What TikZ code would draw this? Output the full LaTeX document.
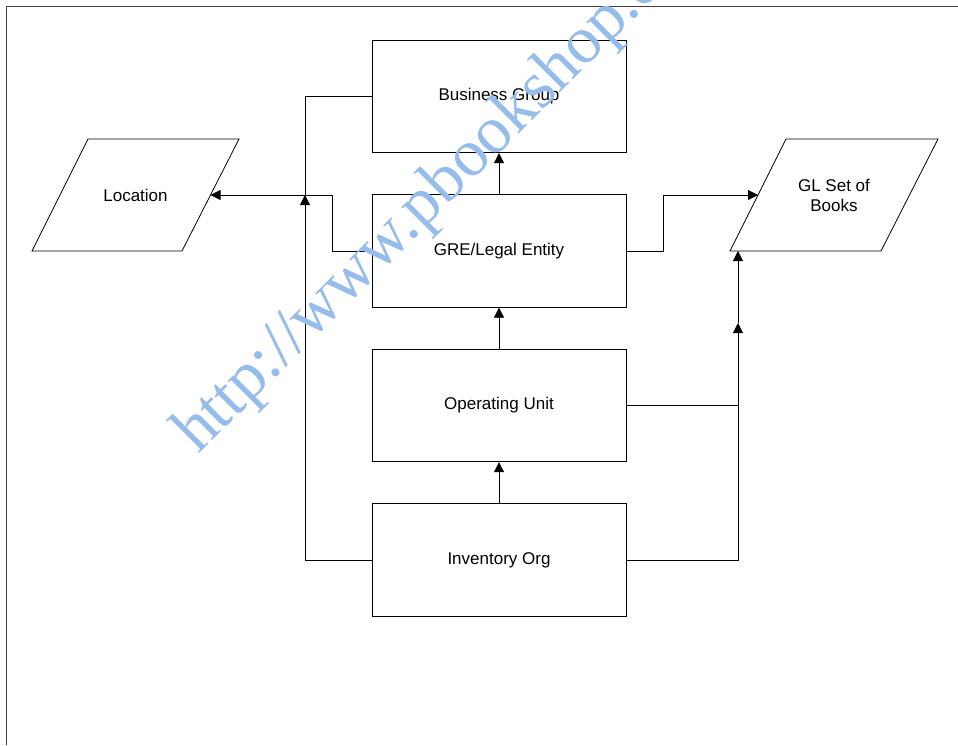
\documentclass[tikz,border=0pt]{standalone}
\usepackage{fontspec}
\setmainfont{Liberation Sans}
\newfontfamily\wmfont{Liberation Serif}
\usetikzlibrary{arrows.meta}
\definecolor{wmblue}{RGB}{150,188,236}
\begin{document}
\begin{tikzpicture}[x=1pt,y=-1pt,
  box/.style={draw, line width=0.8pt, minimum width=254pt, minimum height=112.5pt,
              inner sep=0pt, font=\fontsize{17}{20}\selectfont},
  lbl/.style={font=\fontsize{17}{20}\selectfont, align=center, inner sep=0pt},
  link/.style={line width=0.8pt},
  arr/.style={link, -{Triangle[length=10pt,width=10pt]}},
  frameline/.style={line width=1.4pt, draw=black!75}]
\useasboundingbox (0,0) rectangle (958,745);

% page frame (top and left edges)
\draw[frameline] (6.5,745) -- (6.5,6.5) -- (958,6.5);

% organisation hierarchy
\node[box] (bg)  at (499,96.5)  {Business Group};
\node[box] (gre) at (499,251)   {GRE/Legal Entity};
\node[box] (ou)  at (499,405.5) {Operating Unit};
\node[box] (inv) at (499,560)   {Inventory Org};

% data stores
\draw[link] (88,139) -- (239,139) -- (182,251) -- (32,251) -- cycle;
\node[lbl] (loc) at (135.5,195) {Location};
\draw[link] (786,139) -- (938,139) -- (881,251) -- (730,251) -- cycle;
\node[lbl] (gl) at (834,195) {GL Set of\\Books};

% connector end points
\coordinate (locR) at (210.5,195);
\coordinate (glL)  at (758,195);
\coordinate (glB)  at (738,251);
\coordinate (lj)   at (305,195);
\coordinate (rj)   at (738,323);

% connectors
\draw[arr] (gre.north) -- (bg.south);
\draw[arr] (ou.north) -- (gre.south);
\draw[arr] (inv.north) -- (ou.south);
\draw[arr] (gre.west) -- ++(-39,0) |- (locR);
\draw[arr] (gre.east) -- ++(37,0) |- (glL);
\draw[arr] (inv.west) -| (lj);
\draw[link] (lj) |- (bg.west);
\draw[arr] (inv.east) -| (rj);
\draw[arr] (rj) -- (glB);
\draw[link] (ou.east) -- (ou.east -| rj);

% watermark
\node[rotate=45, anchor=base west, text=wmblue, inner sep=0pt,
      font=\wmfont\fontsize{67}{67}\selectfont] (wm) at (198,455) {http://www.pbookshop.c};
\end{tikzpicture}
\end{document}
